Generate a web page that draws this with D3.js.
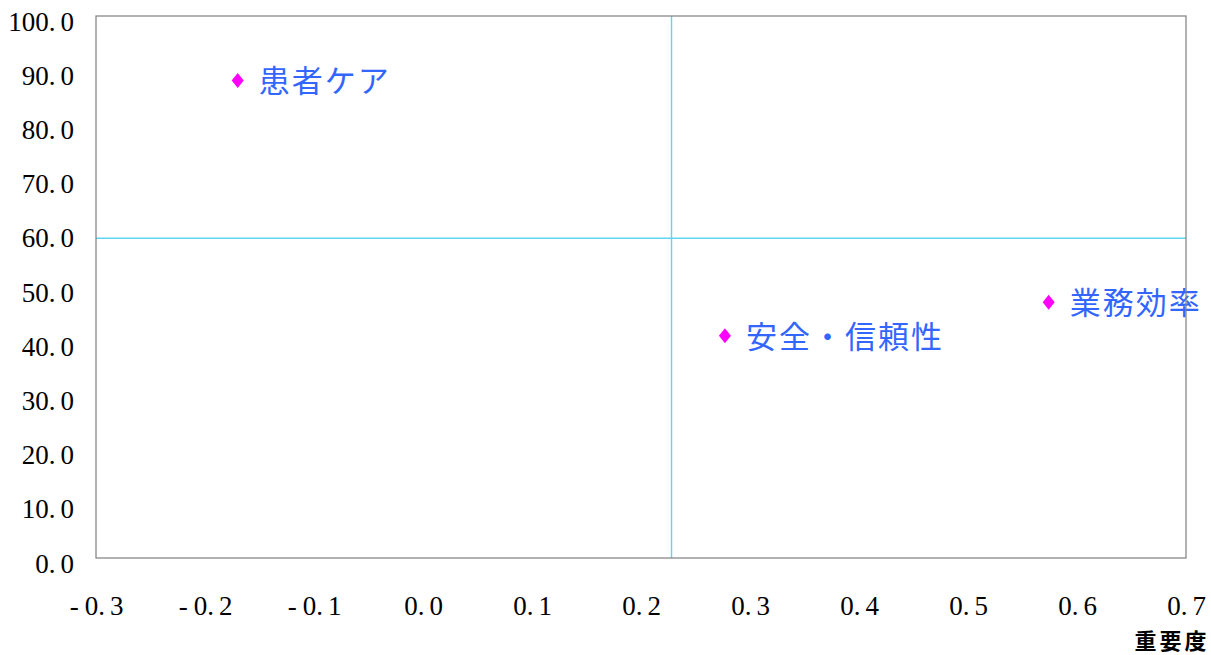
<!DOCTYPE html>
<html>
<head>
<meta charset="utf-8">
<script src="https://cdn.jsdelivr.net/npm/d3@7"></script>
<style>
  html, body { margin: 0; padding: 0; background: #fff; }
  svg { display: block; }
</style>
</head>
<body>
<svg id="chart" width="1211" height="655"></svg>
<script>
// Items plotted on the importance / satisfaction grid
const items = ["患者ケア", "安全・信頼性", "業務効率"];
const importance = [-0.170, 0.277, 0.574];
const satisfaction = [88.1, 41.0, 47.2];

// Cross-hair reference lines (averages)
const refImportance = 0.228;
const refSatisfaction = 59.0;

// Axis ticks
const xTicks = [-0.3, -0.2, -0.1, 0.0, 0.1, 0.2, 0.3, 0.4, 0.5, 0.6, 0.7];
const yTicks = [0, 10, 20, 30, 40, 50, 60, 70, 80, 90, 100];
const xTitle = "重要度";

const svg = d3.select("#chart");
const plot = { left: 96, top: 16, right: 1186, bottom: 558 };

const x = d3.scaleLinear().domain([-0.3, 0.7]).range([plot.left, plot.right]);
const y = d3.scaleLinear().domain([0, 100]).range([plot.bottom, plot.top]);

const fmt = d => (Math.abs(d) < 1e-9 ? 0 : d).toFixed(1);

// Tick label with a gap after the decimal point (and after a minus sign)
function tickText(sel, str) {
  const m = str.match(/^(-?)(\d+\.)(\d)$/);
  sel.text(null);
  if (!m) { sel.text(str); return; }
  if (m[1]) sel.append("tspan").text(m[1]);
  sel.append("tspan").attr("dx", m[1] ? 6 : 0).text(m[2]);
  sel.append("tspan").attr("dx", 5).text(m[3]);
}

const tickFont = "'Liberation Serif', 'DejaVu Serif', serif";

// Y tick labels
const yAxis = d3.axisLeft(y).tickValues(yTicks).tickSize(0).tickPadding(22).tickFormat(fmt);
svg.append("g").attr("transform", `translate(${plot.left},0)`).call(yAxis)
  .call(g => g.select(".domain").remove())
  .call(g => g.selectAll("text")
    .attr("font-family", tickFont).attr("font-size", 27).attr("fill", "#000")
    .attr("dy", "0.52em")
    .each(function(d) { tickText(d3.select(this), fmt(d)); }));

// X tick labels
const xAxis = d3.axisBottom(x).tickValues(xTicks).tickSize(0).tickPadding(38).tickFormat(fmt);
svg.append("g").attr("transform", `translate(0,${plot.bottom})`).call(xAxis)
  .call(g => g.select(".domain").remove())
  .call(g => g.selectAll("text")
    .attr("font-family", tickFont).attr("font-size", 27).attr("fill", "#000")
    .each(function(d) { tickText(d3.select(this), fmt(d)); }));

// Reference lines
svg.append("line")
  .attr("x1", plot.left).attr("x2", plot.right)
  .attr("y1", y(refSatisfaction)).attr("y2", y(refSatisfaction))
  .attr("stroke", "#5fd6f2").attr("stroke-width", 1.4);
svg.append("line")
  .attr("x1", x(refImportance)).attr("x2", x(refImportance))
  .attr("y1", plot.top).attr("y2", plot.bottom)
  .attr("stroke", "#5fd6f2").attr("stroke-width", 1.4);

// Points and labels
const data = items.map((name, i) => ({ name, imp: importance[i], sat: satisfaction[i] }));
const diamond = "M0,-7.5L6,0L0,7.5L-6,0Z";
const pts = svg.append("g");
pts.selectAll("path").data(data).join("path")
  .attr("d", diamond)
  .attr("transform", d => `translate(${x(d.imp)},${y(d.sat)})`)
  .attr("fill", "#ff00ff");
pts.selectAll("text").data(data).join("text")
  .attr("x", d => x(d.imp) + 21)
  .attr("y", d => y(d.sat) + 12)
  .attr("font-family", "'Noto Sans CJK JP', 'Noto Sans', sans-serif")
  .attr("font-size", 31)
  .attr("letter-spacing", 2)
  .attr("fill", "#3366ff")
  .text(d => d.name);

// Plot frame
svg.append("rect")
  .attr("x", plot.left).attr("y", plot.top)
  .attr("width", plot.right - plot.left).attr("height", plot.bottom - plot.top)
  .attr("fill", "none").attr("stroke", "#7f7f7f").attr("stroke-width", 1.2);

// Axis title
svg.append("text")
  .attr("x", 1172).attr("y", 648.5)
  .attr("text-anchor", "middle")
  .attr("font-family", "'Noto Sans CJK JP', sans-serif")
  .attr("font-size", 22).attr("font-weight", "bold")
  .attr("letter-spacing", 3)
  .attr("fill", "#000")
  .text(xTitle);
</script>
</body>
</html>
